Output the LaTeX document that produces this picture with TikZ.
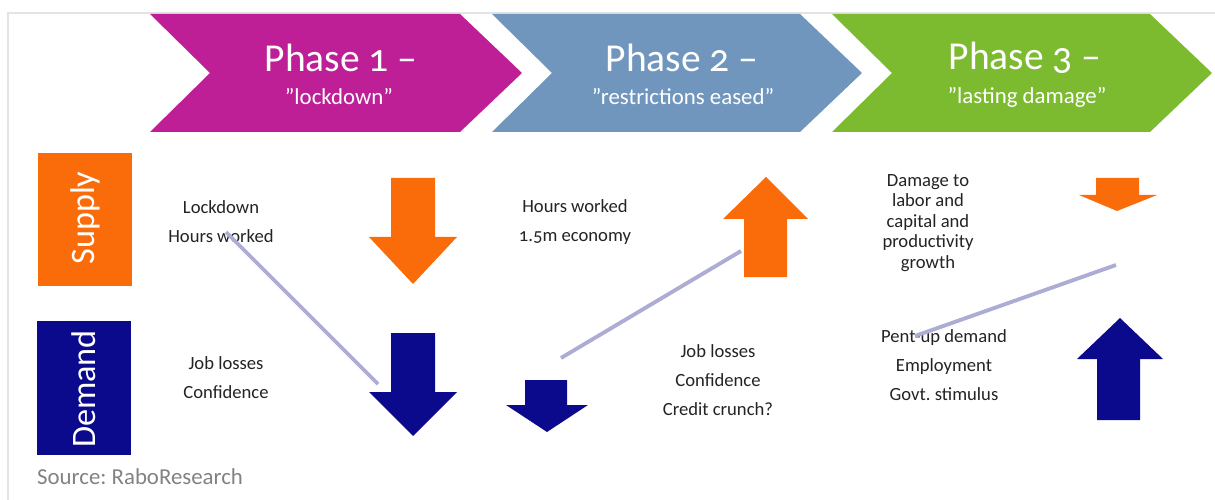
\documentclass[tikz,border=0pt]{standalone}
\usepackage{fontspec}
\setmainfont{Carlito}[Numbers=OldStyle]
\usepackage{xcolor}
\definecolor{phaseone}{RGB}{190,30,150}
\definecolor{phasetwo}{RGB}{112,150,190}
\definecolor{phasethree}{RGB}{124,186,48}
\definecolor{supplyorange}{RGB}{250,108,10}
\definecolor{demandnavy}{RGB}{12,10,140}
\definecolor{linklavender}{RGB}{172,172,212}
\definecolor{notegrey}{RGB}{35,35,35}
\definecolor{sourcegrey}{RGB}{130,130,130}
\definecolor{framegrey}{RGB}{228,228,228}
\frenchspacing

\begin{document}
\begin{tikzpicture}[x=0.02cm, y=-0.02cm,
  title/.style={text=white, font=\fontsize{22.5}{26}\selectfont},
  subtitle/.style={text=white, font=\fontsize{13}{15}\selectfont},
  side/.style={text=white, rotate=90, font=\fontsize{19.5}{22}\selectfont},
  note/.style={text=notegrey, align=center, font=\fontsize{10.6}{16.5}\selectfont},
  link/.style={draw=linklavender, line width=2.2pt}]
\useasboundingbox (0,0) rectangle (1215,500);
\draw [framegrey, line width=0.6pt] (8,500) -- (8,13) -- (1215,13);

\fill [phaseone] (150,14) -- (460,14) -- (522,73) -- (460,132) -- (150,132) -- (210,73) -- cycle;
\fill [phasetwo] (492,14) -- (800,14) -- (862,73) -- (800,132) -- (492,132) -- (552,73) -- cycle;
\fill [phasethree] (832,14) -- (1150,14) -- (1212,73) -- (1150,132) -- (832,132) -- (892,73) -- cycle;
\node [title] (p1) at (341,58) {Phase 1 –};
\node [subtitle] (p1sub) at (339,97) {\char34 lockdown\char34};
\node [title] (p2) at (682,58) {Phase 2 –};
\node [subtitle] (p2sub) at (683,97) {\char34 restrictions eased\char34};
\node [title] (p3) at (1025,58) {Phase 3 –};
\node [subtitle] (p3sub) at (1027,97) {\char34 lasting damage\char34};

\fill [supplyorange] (38,153) rectangle (132,286);
\fill [demandnavy] (37,321) rectangle (131,455);
\node [side] (supply) at (85,218) {Supply};
\node [side] (demand) at (84,389) {Demand};

\node [note] (n1s) at (221,222) {Lockdown\\Hours worked};
\node [note] (n1d) at (226,378) {Job losses\\Confidence};
\node [note] (n2s) at (575,222) {Hours worked\\1.5m economy};
\node [note] (n2d) at (718,380) {Job losses\\Confidence\\Credit crunch?};
\node [note, font=\fontsize{10.6}{11.6}\selectfont] (n3s) at (928,223) {Damage to\\labor and\\capital and\\productivity\\growth};
\node [note] (n3d) at (944,365) {Pent-up demand\\Employment\\Govt. stimulus};

\coordinate (l1a) at (226,232);
\coordinate (l1b) at (378,384);
\coordinate (l2a) at (561,358);
\coordinate (l2b) at (741,251);
\coordinate (l3a) at (915,336);
\coordinate (l3b) at (1116,265);
\draw [link] (l1a) -- (l1b);
\draw [link] (l2a) -- (l2b);
\draw [link] (l3a) -- (l3b);

\fill [supplyorange] (391,178) -- (435,178) -- (435,237) -- (457,237) -- (413,284) -- (369,237) -- (391,237) -- cycle;
\fill [demandnavy] (391,333) -- (435,333) -- (435,392) -- (457,392) -- (413,436) -- (369,392) -- (391,392) -- cycle;
\fill [demandnavy] (525,380) -- (567,380) -- (567,405) -- (588,405) -- (547,432) -- (506,405) -- (525,405) -- cycle;
\fill [supplyorange] (744,277) -- (787,277) -- (787,219) -- (808,219) -- (766,177) -- (723,219) -- (744,219) -- cycle;
\fill [supplyorange] (1096,178) -- (1139,178) -- (1139,195) -- (1157,195) -- (1117,211) -- (1079,195) -- (1096,195) -- cycle;
\fill [demandnavy] (1097,420) -- (1140,420) -- (1140,359) -- (1163,359) -- (1120,318) -- (1077,359) -- (1097,359) -- cycle;

\node [anchor=west, text=sourcegrey, font=\fontsize{13}{15}\selectfont] (source) at (31,477) {Source: RaboResearch};
\end{tikzpicture}
\end{document}
